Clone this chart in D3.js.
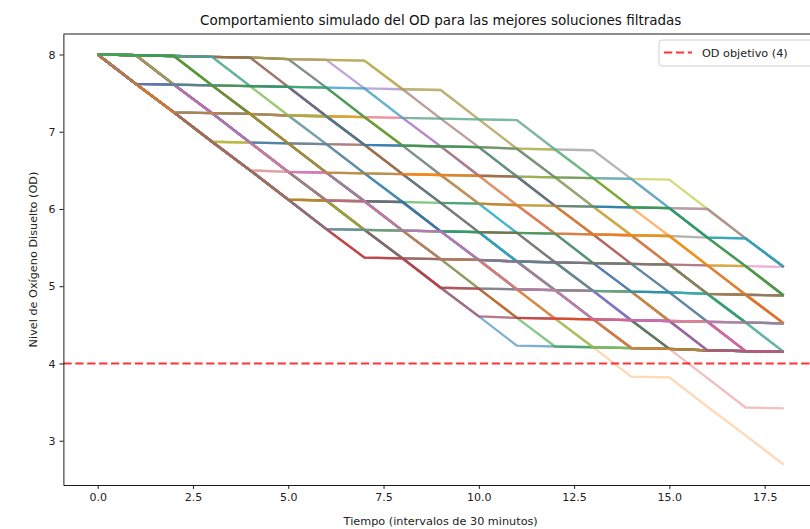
<!DOCTYPE html>
<html>
<head>
<meta charset="utf-8">
<script src="https://cdn.jsdelivr.net/npm/d3@7"></script>
<style>
  body { margin: 0; background: #fff; }
  svg { display: block; font-family: "DejaVu Sans", sans-serif; }
</style>
</head>
<body>
<svg id="chart" width="810" height="529"></svg>
<script>
// time steps (intervals of 30 min)
var tiempo = [0, 1, 2, 3, 4, 5, 6, 7, 8, 9, 10, 11, 12, 13, 14, 15, 16, 17, 18];

// simulated OD for each filtered solution
var sol01 = [8.00, 7.99, 7.61, 7.24, 6.86, 6.48, 6.11, 5.73, 5.36, 4.98, 4.61, 4.23, 4.22, 4.21, 4.20, 4.19, 4.17, 4.16, 4.15];
var sol02 = [8.00, 7.62, 7.25, 7.24, 7.23, 7.21, 7.20, 7.19, 7.18, 7.17, 7.16, 7.15, 6.77, 6.40, 6.02, 5.65, 5.27, 4.89, 4.52];
var sol03 = [8.00, 7.99, 7.98, 7.60, 7.23, 6.85, 6.47, 6.10, 5.72, 5.35, 4.97, 4.59, 4.22, 4.21, 4.20, 4.19, 4.17, 4.16, 4.15];
var sol04 = [8.00, 7.99, 7.61, 7.60, 7.23, 7.21, 6.84, 6.83, 6.45, 6.44, 6.07, 6.05, 5.68, 5.67, 5.29, 5.28, 4.90, 4.89, 4.52];
var sol05 = [8.00, 7.62, 7.61, 7.60, 7.59, 7.58, 7.57, 7.56, 7.55, 7.54, 7.16, 6.78, 6.41, 6.03, 5.66, 5.28, 4.90, 4.53, 4.15];
var sol06 = [8.00, 7.99, 7.98, 7.97, 7.96, 7.94, 7.93, 7.92, 7.55, 7.17, 6.80, 6.42, 6.04, 5.67, 5.29, 4.92, 4.54, 4.16, 4.15];
var sol07 = [8.00, 7.62, 7.25, 6.87, 6.50, 6.12, 5.74, 5.37, 5.36, 5.35, 5.34, 5.32, 5.31, 5.30, 5.29, 5.28, 5.27, 5.26, 5.25];
var sol08 = [8.00, 7.62, 7.25, 6.87, 6.86, 6.85, 6.84, 6.83, 6.82, 6.81, 6.80, 6.78, 6.77, 6.76, 6.39, 6.01, 5.63, 5.26, 4.88];
var sol09 = [8.00, 7.62, 7.25, 6.87, 6.50, 6.48, 6.47, 6.46, 6.45, 6.44, 6.43, 6.42, 6.41, 6.40, 6.39, 6.38, 6.00, 5.62, 5.25];
var sol10 = [8.00, 7.99, 7.98, 7.97, 7.59, 7.21, 6.84, 6.46, 6.09, 5.71, 5.34, 4.96, 4.58, 4.21, 4.20, 4.19, 4.17, 4.16, 4.15];
var sol11 = [8.00, 7.62, 7.61, 7.24, 7.23, 6.85, 6.84, 6.46, 6.45, 6.08, 6.07, 5.69, 5.68, 5.30, 5.29, 4.92, 4.90, 4.53, 4.52];
var sol12 = [8.00, 7.99, 7.61, 7.24, 7.23, 6.85, 6.47, 6.10, 6.09, 5.71, 5.34, 4.96, 4.58, 4.21, 3.83, 3.82, 3.44, 3.07, 2.69];
var sol13 = [8.00, 7.62, 7.25, 6.87, 6.50, 6.12, 6.11, 6.10, 6.09, 6.08, 6.07, 6.05, 6.04, 6.03, 6.02, 6.01, 6.00, 5.62, 5.25];
var sol14 = [8.00, 7.62, 7.61, 7.24, 6.86, 6.48, 6.47, 6.10, 5.72, 5.35, 5.34, 4.96, 4.58, 4.57, 4.20, 4.19, 3.81, 3.43, 3.42];
var sol15 = [8.00, 7.62, 7.25, 7.24, 6.86, 6.48, 6.47, 6.10, 5.72, 5.71, 5.34, 4.96, 4.95, 4.57, 4.20, 4.19, 4.17, 4.16, 4.15];
var sol16 = [8.00, 7.99, 7.98, 7.97, 7.96, 7.58, 7.20, 6.83, 6.45, 6.08, 5.70, 5.32, 4.95, 4.57, 4.20, 4.19, 4.17, 4.16, 4.15];
var sol17 = [8.00, 7.99, 7.98, 7.60, 7.59, 7.58, 7.20, 7.19, 7.18, 6.81, 6.80, 6.78, 6.41, 6.40, 6.39, 6.01, 6.00, 5.62, 5.25];
var sol18 = [8.00, 7.62, 7.25, 6.87, 6.50, 6.12, 5.74, 5.73, 5.72, 5.71, 5.70, 5.69, 5.68, 5.67, 5.66, 5.65, 5.63, 5.62, 5.25];
var sol19 = [8.00, 7.62, 7.25, 6.87, 6.86, 6.48, 6.11, 5.73, 5.72, 5.35, 4.97, 4.59, 4.58, 4.21, 4.20, 4.19, 4.17, 4.16, 4.15];
var sol20 = [8.00, 7.99, 7.98, 7.97, 7.96, 7.94, 7.57, 7.19, 6.82, 6.44, 6.07, 5.69, 5.31, 4.94, 4.56, 4.19, 4.17, 4.16, 4.15];
var sol21 = [8.00, 7.62, 7.61, 7.60, 7.23, 7.21, 7.20, 6.83, 6.82, 6.81, 6.43, 6.42, 6.41, 6.03, 6.02, 6.01, 5.63, 5.62, 5.25];
var sol22 = [8.00, 7.99, 7.98, 7.97, 7.59, 7.58, 7.20, 7.19, 6.82, 6.81, 6.43, 6.42, 6.04, 6.03, 5.66, 5.65, 5.27, 5.26, 4.88];
var sol23 = [8.00, 7.99, 7.61, 7.24, 6.86, 6.48, 6.11, 5.73, 5.36, 4.98, 4.97, 4.96, 4.95, 4.94, 4.93, 4.92, 4.90, 4.89, 4.88];
var sol24 = [8.00, 7.62, 7.25, 6.87, 6.50, 6.12, 6.11, 6.10, 6.09, 5.71, 5.70, 5.32, 5.31, 4.94, 4.93, 4.55, 4.54, 4.16, 4.15];
var sol25 = [8.00, 7.99, 7.98, 7.97, 7.96, 7.94, 7.93, 7.56, 7.18, 6.81, 6.43, 6.05, 5.68, 5.30, 4.93, 4.55, 4.17, 4.16, 4.15];
var sol26 = [8.00, 7.99, 7.98, 7.97, 7.96, 7.94, 7.57, 7.19, 6.82, 6.44, 6.43, 6.42, 6.04, 5.67, 5.66, 5.28, 4.90, 4.89, 4.52];
var sol27 = [8.00, 7.99, 7.61, 7.24, 6.86, 6.48, 6.11, 5.73, 5.36, 4.98, 4.61, 4.59, 4.58, 4.57, 4.56, 4.55, 4.54, 4.53, 4.52];
var sol28 = [8.00, 7.62, 7.61, 7.24, 6.86, 6.85, 6.84, 6.46, 6.09, 5.71, 5.70, 5.69, 5.31, 5.30, 4.93, 4.92, 4.90, 4.53, 4.52];
var sol29 = [8.00, 7.99, 7.98, 7.97, 7.96, 7.94, 7.93, 7.92, 7.55, 7.54, 7.16, 6.78, 6.77, 6.40, 6.02, 6.01, 5.63, 5.26, 4.88];
var sol30 = [8.00, 7.62, 7.25, 7.24, 7.23, 7.21, 7.20, 6.83, 6.45, 6.08, 5.70, 5.32, 4.95, 4.57, 4.56, 4.55, 4.17, 4.16, 4.15];
var sol31 = [8.00, 7.99, 7.61, 7.24, 7.23, 6.85, 6.47, 6.46, 6.09, 5.71, 5.70, 5.32, 4.95, 4.94, 4.56, 4.19, 4.17, 4.16, 4.15];
var sol32 = [8.00, 7.99, 7.98, 7.60, 7.23, 7.21, 7.20, 6.83, 6.45, 6.44, 6.43, 6.05, 5.68, 5.67, 5.66, 5.28, 4.90, 4.89, 4.88];
var sol33 = [8.00, 7.62, 7.25, 6.87, 6.50, 6.12, 6.11, 5.73, 5.36, 5.35, 5.34, 4.96, 4.95, 4.57, 4.56, 4.19, 4.17, 4.16, 4.15];
var sol34 = [8.00, 7.62, 7.25, 6.87, 6.50, 6.12, 5.74, 5.37, 5.36, 5.35, 5.34, 5.32, 5.31, 4.94, 4.93, 4.55, 4.54, 4.16, 4.15];
var sol35 = [8.00, 7.62, 7.25, 6.87, 6.50, 6.12, 5.74, 5.73, 5.36, 4.98, 4.97, 4.96, 4.95, 4.94, 4.56, 4.55, 4.54, 4.16, 4.15];
var sol36 = [8.00, 7.99, 7.61, 7.24, 6.86, 6.48, 6.11, 5.73, 5.36, 4.98, 4.61, 4.59, 4.58, 4.57, 4.56, 4.19, 4.17, 4.16, 4.15];
var sol37 = [8.00, 7.62, 7.25, 6.87, 6.50, 6.48, 6.47, 6.10, 5.72, 5.35, 5.34, 5.32, 4.95, 4.57, 4.56, 4.55, 4.54, 4.16, 4.15];
var sol38 = [8.00, 7.62, 7.25, 6.87, 6.50, 6.12, 5.74, 5.37, 5.36, 5.35, 4.97, 4.96, 4.95, 4.57, 4.20, 4.19, 4.17, 4.16, 4.15];
var sol39 = [8.00, 7.62, 7.25, 6.87, 6.86, 6.48, 6.11, 5.73, 5.72, 5.71, 5.34, 5.32, 4.95, 4.94, 4.93, 4.55, 4.54, 4.53, 4.15];
var sol40 = [8.00, 7.62, 7.25, 6.87, 6.50, 6.12, 5.74, 5.73, 5.72, 5.71, 5.70, 5.32, 5.31, 4.94, 4.93, 4.92, 4.90, 4.53, 4.15];
var sol41 = [8.00, 7.62, 7.25, 7.24, 6.86, 6.85, 6.47, 6.10, 6.09, 5.71, 5.34, 5.32, 5.31, 5.30, 4.93, 4.92, 4.54, 4.53, 4.52];
var sol42 = [8.00, 7.62, 7.25, 6.87, 6.50, 6.12, 6.11, 6.10, 5.72, 5.35, 5.34, 4.96, 4.58, 4.57, 4.20, 4.19, 4.17, 4.16, 4.15];
var sol43 = [8.00, 7.99, 7.98, 7.60, 7.23, 6.85, 6.47, 6.10, 5.72, 5.71, 5.70, 5.69, 5.68, 5.30, 5.29, 5.28, 4.90, 4.53, 4.52];
var sol44 = [8.00, 7.62, 7.25, 6.87, 6.50, 6.12, 5.74, 5.37, 5.36, 4.98, 4.97, 4.59, 4.58, 4.57, 4.56, 4.55, 4.17, 4.16, 4.15];
var sol45 = [8.00, 7.99, 7.61, 7.24, 6.86, 6.48, 6.11, 6.10, 5.72, 5.71, 5.34, 5.32, 4.95, 4.94, 4.56, 4.55, 4.17, 4.16, 4.15];
var sol46 = [8.00, 7.99, 7.98, 7.97, 7.96, 7.58, 7.20, 6.83, 6.45, 6.08, 5.70, 5.69, 5.31, 5.30, 5.29, 5.28, 5.27, 4.89, 4.88];
var sol47 = [8.00, 7.62, 7.61, 7.24, 6.86, 6.48, 6.47, 6.10, 5.72, 5.71, 5.34, 4.96, 4.95, 4.57, 4.56, 4.55, 4.54, 4.53, 4.52];
var sol48 = [8.00, 7.62, 7.25, 6.87, 6.50, 6.12, 5.74, 5.73, 5.72, 5.35, 5.34, 5.32, 5.31, 5.30, 5.29, 5.28, 4.90, 4.89, 4.88];
var sol49 = [8.00, 7.99, 7.61, 7.60, 7.59, 7.21, 7.20, 7.19, 6.82, 6.81, 6.80, 6.42, 6.41, 6.03, 5.66, 5.65, 5.27, 5.26, 4.88];
var sol50 = [8.00, 7.99, 7.98, 7.97, 7.59, 7.58, 7.57, 7.56, 7.18, 7.17, 7.16, 7.15, 6.77, 6.40, 6.39, 6.01, 5.63, 5.62, 5.25];
var sol51 = [8.00, 7.62, 7.61, 7.60, 7.59, 7.58, 7.20, 6.83, 6.82, 6.81, 6.80, 6.42, 6.04, 6.03, 6.02, 6.01, 5.63, 5.26, 4.88];
var sol52 = [8.00, 7.62, 7.25, 7.24, 7.23, 6.85, 6.47, 6.46, 6.45, 6.44, 6.07, 6.05, 6.04, 5.67, 5.66, 5.65, 5.27, 4.89, 4.52];
var sol53 = [8.00, 7.99, 7.98, 7.60, 7.59, 7.58, 7.57, 7.19, 6.82, 6.81, 6.80, 6.78, 6.41, 6.40, 6.02, 6.01, 5.63, 5.26, 4.88];

var soluciones = [sol01, sol02, sol03, sol04, sol05, sol06, sol07, sol08, sol09, sol10,
  sol11, sol12, sol13, sol14, sol15, sol16, sol17, sol18, sol19, sol20,
  sol21, sol22, sol23, sol24, sol25, sol26, sol27, sol28, sol29, sol30,
  sol31, sol32, sol33, sol34, sol35, sol36, sol37, sol38, sol39, sol40,
  sol41, sol42, sol43, sol44, sol45, sol46, sol47, sol48, sol49, sol50,
  sol51, sol52, sol53];

var odObjetivo = 4;
var xTicks = [0, 2.5, 5, 7.5, 10, 12.5, 15, 17.5];
var yTicks = [3, 4, 5, 6, 7, 8];

// plot area (the right edge falls outside the window, as in the original)
var margin = { top: 34, right: -8, bottom: 44, left: 63.4 };
var width = 810 - margin.left - margin.right;
var height = 529 - margin.top - margin.bottom;

var svg = d3.select('#chart');
var g = svg.append('g')
  .attr('transform', 'translate(' + margin.left + ',' + margin.top + ')');

var x = d3.scaleLinear().domain([-0.9, 18.9]).range([0, width]);
var y = d3.scaleLinear().domain([2.427, 8.265]).range([height, 0]);

var color = d3.scaleOrdinal(d3.schemeCategory10);

var line = d3.line()
  .x(function (d, i) { return x(tiempo[i]); })
  .y(function (d) { return y(d); });

// simulated lines; the ones that end below the target are drawn fainter
g.selectAll('.sol')
  .data(soluciones)
  .enter()
  .append('path')
    .attr('class', 'sol')
    .attr('d', line)
    .attr('fill', 'none')
    .attr('stroke', function (d, i) { return color(i); })
    .attr('stroke-width', 2.3)
    .attr('stroke-opacity', function (d) { return d[d.length - 1] < odObjetivo ? 0.3 : 0.58; })
    .attr('stroke-linejoin', 'round');

// target OD
g.append('line')
  .attr('x1', 0)
  .attr('x2', width)
  .attr('y1', y(odObjetivo))
  .attr('y2', y(odObjetivo))
  .attr('stroke', 'red')
  .attr('stroke-opacity', 0.8)
  .attr('stroke-width', 2.2)
  .attr('stroke-dasharray', '8.3,3.6');

// axes
var xAxis = g.append('g')
  .attr('transform', 'translate(0,' + height + ')')
  .call(d3.axisBottom(x).tickValues(xTicks).tickFormat(d3.format('.1f'))
    .tickSize(3.9).tickSizeOuter(0).tickPadding(3.9));

var yAxis = g.append('g')
  .call(d3.axisLeft(y).tickValues(yTicks).tickFormat(d3.format('d'))
    .tickSize(3.9).tickSizeOuter(0).tickPadding(3.9));

[xAxis, yAxis].forEach(function (a) {
  a.selectAll('path, line').attr('stroke', '#000').attr('stroke-width', 0.9);
  a.selectAll('text').attr('font-size', 11).attr('fill', '#222')
    .attr('font-family', '"DejaVu Sans", sans-serif');
});

// top and right spines
g.append('line').attr('x1', 0).attr('x2', width).attr('y1', 0).attr('y2', 0)
  .attr('stroke', '#000').attr('stroke-width', 0.9);
g.append('line').attr('x1', width).attr('x2', width).attr('y1', 0).attr('y2', height)
  .attr('stroke', '#000').attr('stroke-width', 0.9);

// title and labels
svg.append('text')
  .attr('x', margin.left + width / 2)
  .attr('y', 25)
  .attr('text-anchor', 'middle')
  .attr('font-size', 13.5)
  .attr('fill', '#111')
  .text('Comportamiento simulado del OD para las mejores soluciones filtradas');

svg.append('text')
  .attr('x', margin.left + width / 2)
  .attr('y', 525)
  .attr('text-anchor', 'middle')
  .attr('font-size', 11.25)
  .attr('fill', '#222')
  .text('Tiempo (intervalos de 30 minutos)');

svg.append('text')
  .attr('transform', 'translate(' + 37 + ',' + (margin.top + height / 2) + ') rotate(-90)')
  .attr('text-anchor', 'middle')
  .attr('font-size', 11.25)
  .attr('fill', '#222')
  .text('Nivel de Oxígeno Disuelto (OD)');

// legend
var legend = svg.append('g').attr('transform', 'translate(659,40)');
legend.append('rect')
  .attr('width', 156)
  .attr('height', 26)
  .attr('rx', 3)
  .attr('fill', '#fff')
  .attr('fill-opacity', 0.8)
  .attr('stroke', '#d0d0d0');
legend.append('line')
  .attr('x1', 5).attr('x2', 33).attr('y1', 12.5).attr('y2', 12.5)
  .attr('stroke', 'red')
  .attr('stroke-opacity', 0.8)
  .attr('stroke-width', 2.2)
  .attr('stroke-dasharray', '8.3,3.6');
legend.append('text')
  .attr('x', 43)
  .attr('y', 16.5)
  .attr('font-size', 11.25)
  .attr('fill', '#222')
  .text('OD objetivo (4)');
</script>
</body>
</html>
